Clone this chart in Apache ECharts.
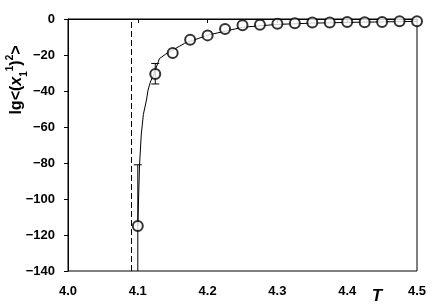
<!DOCTYPE html>
<html>
<head>
<meta charset="utf-8">
<script src="https://cdn.jsdelivr.net/npm/echarts@6/dist/echarts.min.js"></script>
<style>
html,body{margin:0;padding:0;background:#fff;}
#chart{width:436px;height:308px;}
</style>
</head>
<body>
<div id="chart"></div>
<script>
// Data
var tValues = [4.1, 4.125, 4.15, 4.175, 4.2, 4.225, 4.25, 4.275, 4.3, 4.325, 4.35, 4.375, 4.4, 4.425, 4.45, 4.475, 4.5];
var lgValues = [-115, -30.6, -18.9, -11.5, -9.1, -5.6, -3.5, -3.2, -2.6, -2.4, -2.0, -2.0, -1.7, -1.8, -1.7, -1.3, -1.3];

var errT = [4.1, 4.125];
var errLow = [-142, -36.1];
var errHigh = [-81, -24.7];

var fitT = [4.1, 4.1025, 4.105, 4.108, 4.1124, 4.1147, 4.118, 4.123, 4.131, 4.14, 4.149, 4.167, 4.2, 4.25, 4.3, 4.35, 4.4, 4.45, 4.5];
var fitLg = [-115, -81, -64, -53, -45, -39.5, -35, -30.6, -22, -19.5, -17.5, -13.5, -9, -4.6, -3.0, -2.3, -1.9, -1.6, -1.3];

var criticalT = [4.091];

var xRange = [4.0, 4.5, 0.1];
var yRange = [-140, 0, 20];

var yName = '{m|lg<(}{mi|x}{sub|1}{sup|1}{m|)}{sup|2}{m|>}';
var xName = 'T';

var chart = echarts.init(document.getElementById('chart'));
var font = 'Liberation Sans, Arial, sans-serif';

var errData = errT.map(function (t, i) { return [t, errLow[i], errHigh[i]]; });

chart.setOption({
  animation: false,
  backgroundColor: '#fff',
  grid: { left: 68, top: 19, width: 349, height: 252, show: true, borderColor: '#000', borderWidth: 1, backgroundColor: 'transparent' },
  xAxis: {
    type: 'value', min: xRange[0], max: xRange[1], interval: xRange[2],
    axisLine: { lineStyle: { color: '#000', width: 1 } },
    axisTick: { show: true, length: 4, lineStyle: { color: '#000' } },
    splitLine: { show: false },
    axisLabel: { color: '#000', fontFamily: font, fontWeight: 'bold', fontSize: 13, margin: 14,
      formatter: function (v) { return v.toFixed(1); } }
  },
  yAxis: {
    type: 'value', min: yRange[0], max: yRange[1], interval: yRange[2],
    axisLine: { lineStyle: { color: '#000', width: 1 } },
    axisTick: { show: true, length: 4, lineStyle: { color: '#000' } },
    splitLine: { show: false },
    axisLabel: { color: '#000', fontFamily: font, fontWeight: 'bold', fontSize: 13, margin: 13,
      formatter: function (v) { return String(v).replace('-', '\u2212'); } }
  },
  graphic: [
    {
      type: 'text', x: 17, y: 80, rotation: Math.PI / 2,
      style: {
        text: yName, textAlign: 'center', textVerticalAlign: 'middle',
        rich: {
          m: { fontFamily: font, fontWeight: 'bold', fontSize: 16, lineHeight: 24, verticalAlign: 'middle', fill: '#000' },
          mi: { fontFamily: font, fontWeight: 'bold', fontStyle: 'italic', fontSize: 16, lineHeight: 24, verticalAlign: 'middle', fill: '#000' },
          sub: { fontFamily: font, fontWeight: 'bold', fontSize: 10, lineHeight: 24, verticalAlign: 'bottom', fill: '#000' },
          sup: { fontFamily: font, fontWeight: 'bold', fontSize: 10, lineHeight: 24, verticalAlign: 'top', fill: '#000' }
        }
      }
    },
    {
      type: 'text', x: 377, y: 296,
      style: { text: xName, font: 'italic bold 17px Liberation Sans, Arial, sans-serif', fill: '#000', textAlign: 'center', textVerticalAlign: 'middle' }
    }
  ],
  series: [
    {
      type: 'line', data: fitT.map(function (t, i) { return [t, fitLg[i]]; }),
      symbol: 'none', lineStyle: { color: '#000', width: 1 }, z: 2,
      markLine: {
        silent: true, symbol: 'none', label: { show: false },
        lineStyle: { color: '#000', type: [6, 3], width: 1 },
        data: criticalT.map(function (t) { return { xAxis: t }; })
      }
    },
    {
      type: 'custom', data: errData, z: 3, clip: true,
      renderItem: function (params, api) {
        var t = api.value(0), lo = api.value(1), hi = api.value(2);
        var pLo = api.coord([t, lo]), pHi = api.coord([t, hi]);
        var w = 4;
        return {
          type: 'group',
          children: [
            { type: 'line', shape: { x1: pLo[0], y1: pLo[1], x2: pHi[0], y2: pHi[1] }, style: { stroke: '#000', lineWidth: 1 } },
            { type: 'line', shape: { x1: pLo[0] - w, y1: pLo[1], x2: pLo[0] + w, y2: pLo[1] }, style: { stroke: '#000', lineWidth: 1 } },
            { type: 'line', shape: { x1: pHi[0] - w, y1: pHi[1], x2: pHi[0] + w, y2: pHi[1] }, style: { stroke: '#000', lineWidth: 1 } }
          ]
        };
      }
    },
    {
      type: 'scatter', data: tValues.map(function (t, i) { return [t, lgValues[i]]; }),
      symbol: 'circle', symbolSize: 10, z: 4,
      itemStyle: { color: '#fff', borderColor: '#000', borderWidth: 2 }
    }
  ]
});
</script>
</body>
</html>
